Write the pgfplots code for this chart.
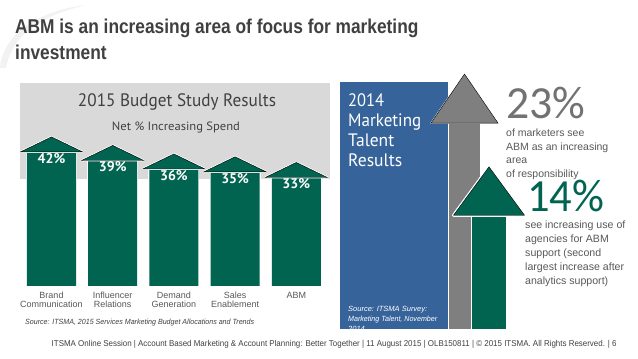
\documentclass[border=0pt]{standalone}
\usepackage{pgfplots}
\pgfplotsset{compat=1.18}
\usepackage{pgfplotstable}
\usepackage{fontspec}
\setmainfont{Liberation Sans}
\newfontfamily\pts{PT Sans}
\newfontfamily\carl{Carlito}
\definecolor{itgreen}{RGB}{0,100,80}
\definecolor{itblue}{RGB}{54,100,154}
\definecolor{itgray}{RGB}{127,127,127}
\definecolor{panel}{RGB}{217,217,217}
\definecolor{txt}{RGB}{64,64,64}
\definecolor{txtl}{RGB}{89,89,89}

\pgfplotstableread{
x v
0 42
1 39
2 36
3 35
4 33
}\budget
\pgfplotstableread{
x v
0 23
}\talentA
\pgfplotstableread{
x v
1 14
}\talentB

\newcommand\fw[2]{\resizebox{#1}{\height}{#2}}

\begin{document}
\begin{tikzpicture}[x=1pt,y=1pt]
\path[use as bounding box, fill=white] (0pt,0pt) rectangle (638pt,359pt);
% decorative swoosh
\fill[gray!10] (0,359-68) .. controls (2,359-40) and (30,359-12) .. (86,359-5) .. controls (40,359-16) and (12,359-35) .. (6,359-68) -- cycle;
% title
\node[anchor=base west, inner sep=0, text=txt, font=\fontsize{20}{20}\selectfont\bfseries] at (15pt,325pt) {\scalebox{0.866}[1]{ABM is an increasing area of focus for marketing}};
\node[anchor=base west, inner sep=0, text=txt, font=\fontsize{20}{20}\selectfont\bfseries] at (15pt,299.5pt) {\scalebox{0.866}[1]{investment}};
% left panel
\fill[panel] (20pt,179.7pt) rectangle (330pt,276.3pt);
\node[anchor=base, inner sep=0, text=txt] at (177pt,252.3pt) {\fw{198pt}{\pts\fontsize{18}{18}\selectfont 2015 Budget Study Results}};
\node[anchor=base, inner sep=0, text=txt] at (176pt,228pt) {\fw{128pt}{\pts\fontsize{12}{12}\selectfont Net \% Increasing Spend}};

\begin{axis}[at={(20.9pt,73pt)}, anchor=south west, scale only axis,
  width=306pt, height=203pt, xmin=-0.5, xmax=4.5, ymin=0, ymax=71.5,
  clip=false, hide y axis, x axis line style={draw=none},
  xtick={0,1,2,3,4}, major tick length=0pt, tick style={draw=none},
  xticklabels={{Brand\\Communication},{Influencer\\Relations},{Demand\\Generation},{Sales\\Enablement},{ABM}},
  xticklabel style={align=center, font=\fontsize{9}{9}\selectfont, text=txtl, anchor=north, inner sep=0pt, yshift=-6pt}]
\addplot[ybar, bar width=49pt, bar shift=0pt, fill=itgreen, draw=white, line width=2pt] table[x=x, y expr=\thisrow{v}+10.5-4.7] {\budget};
\addplot[only marks, mark=triangle*, mark size=10pt, mark options={xscale=3.58, yscale=1.0, fill=itgreen, draw=white, line width=2pt, line join=round}] table[x=x, y expr=\thisrow{v}+10.5-3.52] {\budget};
\addplot[ybar, bar width=49pt, bar shift=0pt, fill=itgreen, draw=none] table[x=x, y expr=\thisrow{v}+10.5-4.7] {\budget};
\addplot[only marks, mark=triangle*, mark size=10pt, mark options={xscale=3.58, yscale=1.0, fill=itgreen, draw=none}] table[x=x, y expr=\thisrow{v}+10.5-3.52] {\budget};
\addplot[draw=none, mark=none, point meta=\thisrow{v},
  nodes near coords={\pgfmathprintnumber[assume math mode=true]{\pgfplotspointmeta}\%},
  every node near coord/.append style={anchor=center, yshift=-21.5pt, text=white, font=\pts\bfseries\fontsize{14}{14}\selectfont}]
  table[x=x, y expr=\thisrow{v}+10.5] {\budget};
\end{axis}
\node[anchor=base west, inner sep=0, text=txt] at (25pt,34.5pt) {\fw{229pt}{\fontsize{7.5}{7.5}\selectfont\itshape Source: ITSMA, 2015 Services Marketing Budget Allocations and Trends}};

% right panel: blue box
\fill[itblue] (340pt,30pt) rectangle (448pt,277pt);
\begin{scope}[every node/.style={anchor=base west, inner sep=0, text=white}]
\node at (348pt,252pt) {\fw{36pt}{\pts\fontsize{18}{18}\selectfont 2014}};
\node at (348pt,232.3pt) {\fw{73pt}{\pts\fontsize{18}{18}\selectfont Marketing}};
\node at (348pt,212.3pt) {\fw{46pt}{\pts\fontsize{18}{18}\selectfont Talent}};
\node at (348pt,192.3pt) {\fw{54pt}{\pts\fontsize{18}{18}\selectfont Results}};
\end{scope}
\begin{scope}
\clip (340pt,30pt) rectangle (448pt,277pt);
\begin{scope}[every node/.style={anchor=base west, inner sep=0, text=white, font=\fontsize{7.5}{7.5}\selectfont\itshape}]
\node at (348pt,47.5pt) {Source: ITSMA Survey:};
\node at (348pt,37.5pt) {\fw{89pt}{Marketing Talent, November}};
\node at (348pt,27.5pt) {2014};
\end{scope}
\end{scope}

\begin{axis}[at={(464.5pt,30pt)}, anchor=south west, scale only axis,
  width=24.5pt, height=247.2pt, xmin=0, xmax=1, ymin=0, ymax=24,
  hide axis, clip=false]
% gray arrow (23%)
\addplot[ybar, bar width=31pt, bar shift=0pt, fill=itgray, draw=white, line width=1.2pt] table[x=x, y expr=\thisrow{v}+0.7-2.87] {\talentA};
\addplot[only marks, mark=triangle*, mark size=10pt, mark options={xscale=3.87, yscale=3.27, fill=itgray, draw=white, line width=1.2pt, line join=round}] table[x=x, y expr=\thisrow{v}+0.7-2.12] {\talentA};
\addplot[ybar, bar width=31pt, bar shift=0pt, fill=itgray, draw=none] table[x=x, y expr=\thisrow{v}+0.7-2.87] {\talentA};
\addplot[only marks, mark=triangle*, mark size=10pt, mark options={xscale=3.87, yscale=3.27, fill=itgray, draw=none}] table[x=x, y expr=\thisrow{v}+0.7-2.12] {\talentA};
% green arrow (14%)
\addplot[ybar, bar width=34pt, bar shift=0pt, fill=itgreen, draw=white, line width=3pt] table[x=x, y expr=\thisrow{v}+0.7-2.84] {\talentB};
\addplot[only marks, mark=triangle*, mark size=10pt, mark options={xscale=4.1, yscale=3.23, fill=itgreen, draw=white, line width=3pt, line join=round}] table[x=x, y expr=\thisrow{v}+0.7-2.09] {\talentB};
\addplot[ybar, bar width=34pt, bar shift=0pt, fill=itgreen, draw=none] table[x=x, y expr=\thisrow{v}+0.7-2.84] {\talentB};
\addplot[only marks, mark=triangle*, mark size=10pt, mark options={xscale=4.1, yscale=3.23, fill=itgreen, draw=none}] table[x=x, y expr=\thisrow{v}+0.7-2.09] {\talentB};
\end{axis}

% right texts
\node[anchor=base west, inner sep=0, text=itgray!90!black] at (506pt,240.7pt) {\fw{79pt}{\carl\fontsize{46}{46}\selectfont 23\%}};
\begin{scope}[every node/.style={anchor=base west, inner sep=0, text=txtl, font=\fontsize{10.5}{10.5}\selectfont}]
\node at (506pt,222pt) {of marketers see};
\node at (506pt,208.5pt) {ABM as an increasing};
\node at (506pt,195pt) {area};
\node at (506pt,181pt) {of responsibility};
\end{scope}
\node[anchor=base west, inner sep=0, text=itgreen] at (527pt,147.3pt) {\fw{77pt}{\carl\fontsize{46}{46}\selectfont 14\%}};
\begin{scope}[every node/.style={anchor=base west, inner sep=0, text=txtl, font=\fontsize{10.6}{10.6}\selectfont}]
\node at (525pt,130pt) {see increasing use of};
\node at (525pt,116pt) {agencies for ABM};
\node at (525pt,102pt) {support (second};
\node at (525pt,88pt) {largest increase after};
\node at (525pt,74pt) {analytics support)};
\end{scope}
% footer
\node[anchor=base west, inner sep=0, text=txt] at (51.5pt,12pt) {\fw{565pt}{\fontsize{8.5}{8.5}\selectfont ITSMA Online Session | Account Based Marketing \& Account Planning: Better Together | 11 August 2015 | OLB150811 | \textcopyright{} 2015 ITSMA. All Rights Reserved. | 6}};
\end{tikzpicture}
\end{document}
